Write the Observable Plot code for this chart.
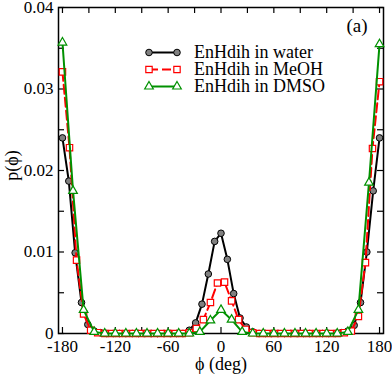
<!DOCTYPE html>
<html><head><meta charset="utf-8">
<script src="https://cdn.jsdelivr.net/npm/d3@7"></script>
<script src="https://cdn.jsdelivr.net/npm/@observablehq/plot@0.6"></script>
<style>body{margin:0;background:#fff}#chart{width:392px;height:374px}</style>
</head><body><div id="chart"></div>
<script>
// ---------- data ----------
const seriesNames = ["EnHdih in water", "EnHdih in MeOH", "EnHdih in DMSO"];

const waterX = [-180, -172.8, -165.6, -158.4, -151.2, -144, -136.8, -129.6, -122.4, -115.2, -108, -100.8, -93.6, -86.4, -79.2, -72, -64.8, -57.6, -50.4, -43.2, -36, -28.8, -21.6, -14.4, -7.2, 0, 7.2, 14.4, 21.6, 28.8, 36, 43.2, 50.4, 57.6, 64.8, 72, 79.2, 86.4, 93.6, 100.8, 108, 115.2, 122.4, 129.6, 136.8, 144, 151.2, 158.4, 165.6, 172.8, 180];
const waterY = [0.0240, 0.0187, 0.0099, 0.0038, 0.0011, 0.0003, 0.0001,
  0, 0, 0, 0, 0, 0, 0, 0, 0, 0, 0, 0, 0,
  0.0004, 0.0013, 0.0036, 0.0073, 0.0113, 0.0123, 0.0091, 0.0049, 0.0019, 0.0008, 0.0002,
  0, 0, 0, 0, 0, 0, 0, 0, 0, 0, 0, 0, 0,
  0.0001, 0.0003, 0.0010, 0.0038, 0.0100, 0.0175, 0.0240];

const meohX = [-180, -172, -164, -156, -148, -140, -132, -124, -116, -108, -100, -92, -84, -76, -68, -60, -52, -44, -36, -28, -20, -12, -4, 4, 12, 20, 28, 36, 44, 52, 60, 68, 76, 84, 92, 100, 108, 116, 124, 132, 140, 148, 156, 164, 172, 180];
const meohY = [0.0321, 0.0228, 0.0090, 0.0024, 0.0004, 0.0001,
  0, 0, 0, 0, 0, 0, 0, 0, 0, 0, 0, 0,
  0.0001, 0.0006, 0.0017, 0.0038, 0.0062, 0.0063, 0.0040, 0.0017, 0.0005, 0.0001,
  0, 0, 0, 0, 0, 0, 0, 0, 0, 0, 0, 0,
  0.0001, 0.0003, 0.0021, 0.0087, 0.0227, 0.0309];

const dmsoX = [-180, -168, -156, -144, -132, -120, -108, -96, -84, -72, -60, -48, -36, -24, -12, 0, 12, 24, 36, 48, 60, 72, 84, 96, 108, 120, 132, 144, 156, 168, 180];
const dmsoY = [0.0357, 0.0175, 0.0029, 0.0002,
  0, 0, 0, 0, 0, 0, 0, 0, 0,
  0.0002, 0.0016, 0.0029, 0.0017, 0.0002,
  0, 0, 0, 0, 0, 0, 0, 0, 0,
  0.0002, 0.0029, 0.0185, 0.0355];

const xLabelTicks = [-180, -120, -60, 0, 60, 120, 180];
const xAllTicks = [-180, -150, -120, -90, -60, -30, 0, 30, 60, 90, 120, 150, 180];
const yLabelTicks = [0, 0.01, 0.02, 0.03, 0.04];
const yTickLabels = ["0", "0.01", "0.02", "0.03", "0.04"];
const yAllTicks = [0, 0.005, 0.01, 0.015, 0.02, 0.025, 0.03, 0.035, 0.04];
const xTitle = "ϕ (deg)";
const yTitle = "p(ϕ)";
const panelTag = "(a)";

// ---------- tables ----------
const water = waterX.map((x, i) => ({x, y: waterY[i]}));
const meoh = meohX.map((x, i) => ({x, y: meohY[i]}));
const dmso = dmsoX.map((x, i) => ({x, y: dmsoY[i]}));

// ---------- style ----------
const W = 392, H = 374, mL = 58, mR = 9, mT = 7, mB = 41;
const frameW = W - mL - mR, frameH = H - mT - mB;
const FONT = '"Liberation Serif","Times New Roman",serif';
const RED = "#ff0000", GREEN = "#009100", GRAY = "#808080";
const TICK = 6;
const dash = "9,4";
const rCircle = 3.3, rSquare = 3.6, rTri = 3.2;

const plot = Plot.plot({
  width: W, height: H,
  marginLeft: mL, marginRight: mR, marginTop: mT, marginBottom: mB,
  style: {fontFamily: FONT, fontSize: "17px", background: "white", color: "black", overflow: "visible"},
  x: {domain: [-184.5, 184.5]},
  y: {domain: [0, 0.04]},
  marks: [
    Plot.tickX(xAllTicks, {x: d => d, insetBottom: frameH - TICK, stroke: "black", strokeWidth: 1.2}),
    Plot.tickX(xAllTicks, {x: d => d, insetTop: frameH - TICK, stroke: "black", strokeWidth: 1.2}),
    Plot.tickY(yAllTicks, {y: d => d, insetRight: frameW - TICK, stroke: "black", strokeWidth: 1.2}),
    Plot.tickY(yAllTicks, {y: d => d, insetLeft: frameW - TICK, stroke: "black", strokeWidth: 1.2}),
    Plot.frame({stroke: "black", strokeWidth: 1.5}),
    Plot.axisX(xLabelTicks, {tickSize: 0, tickPadding: 6, tickFormat: d => String(d), label: null, fontSize: 17}),
    Plot.axisY(yLabelTicks, {tickSize: 0, tickPadding: 5, tickFormat: d => yTickLabels[yLabelTicks.indexOf(d)], label: null, fontSize: 17}),
    Plot.line(water, {x: "x", y: "y", stroke: "black", strokeWidth: 2}),
    Plot.dot(water, {x: "x", y: "y", r: rCircle, fill: GRAY, stroke: "black", strokeWidth: 1}),
    Plot.line(meoh, {x: "x", y: "y", stroke: RED, strokeWidth: 2, strokeDasharray: dash}),
    Plot.dot(meoh, {x: "x", y: "y", symbol: "square", r: rSquare, fill: "white", stroke: RED, strokeWidth: 1.2}),
    Plot.line(dmso, {x: "x", y: "y", stroke: GREEN, strokeWidth: 2}),
    Plot.dot(dmso, {x: "x", y: "y", symbol: "triangle", r: rTri, fill: "white", stroke: GREEN, strokeWidth: 1.2}),
    Plot.text([xTitle], {text: d => d, frameAnchor: "bottom", lineAnchor: "middle", dy: 31, fontSize: 18}),
    Plot.text([yTitle], {text: d => d, frameAnchor: "left", lineAnchor: "middle", textAnchor: "middle", rotate: -90, dx: -46, dy: -5, fontSize: 18}),
    Plot.text([panelTag], {text: d => d, frameAnchor: "top-right", textAnchor: "end", lineAnchor: "top", dx: -16, dy: 11, fontSize: 19})
  ]
});

// ---------- legend ----------
const svg = d3.select(plot);
const leg = svg.append("g").attr("font-family", FONT).attr("font-size", 18).attr("text-anchor", "start");
const styles = [
  {stroke: "black", dash: null, sym: d3.symbolCircle, r: rCircle, fill: GRAY, sw: 1},
  {stroke: RED, dash: dash, sym: d3.symbolSquare, r: rSquare, fill: "white", sw: 1.2},
  {stroke: GREEN, dash: null, sym: d3.symbolTriangle, r: rTri, fill: "white", sw: 1.2}
];
const lx0 = 149, lx1 = 177, tx = 194, ly0 = 52.5, lstep = 17;
seriesNames.forEach((name, i) => {
  const s = styles[i], yy = ly0 + i * lstep;
  leg.append("line").attr("x1", lx0).attr("x2", lx1).attr("y1", yy).attr("y2", yy)
    .attr("stroke", s.stroke).attr("stroke-width", 2).attr("stroke-dasharray", s.dash);
  const path = d3.symbol(s.sym, Math.PI * s.r * s.r)();
  [lx0, lx1].forEach(px => leg.append("path").attr("d", path)
    .attr("transform", `translate(${px},${yy})`)
    .attr("fill", s.fill).attr("stroke", s.stroke).attr("stroke-width", s.sw));
  leg.append("text").attr("x", tx).attr("y", yy).attr("dy", "0.32em")
    .attr("text-anchor", "start").attr("fill", "black").text(name);
});

document.getElementById("chart").appendChild(plot);
</script>
</body></html>
